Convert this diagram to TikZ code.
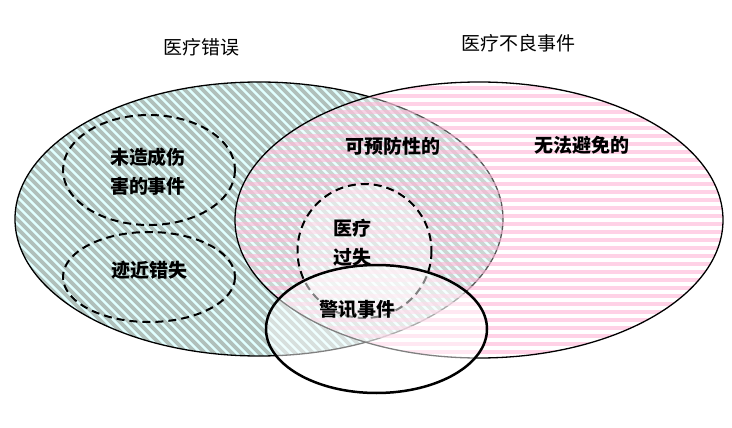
\documentclass[tikz,border=0pt]{standalone}
\usepackage{fontspec}
\setmainfont{Noto Sans CJK SC}
\definecolor{errgray}{HTML}{B0C0BB}
\definecolor{errcyan}{HTML}{E0FFFF}
\definecolor{advpink}{HTML}{FFB4D5}
\begin{document}
\begin{tikzpicture}[x=1pt,y=-1pt,
  lbl/.style={font=\fontsize{19}{29}\selectfont\bfseries,align=center},
  ttl/.style={font=\fontsize{19}{22}\selectfont},
  subset/.style={dash pattern=on 8pt off 5pt,line width=2pt}]
\useasboundingbox (0,0) rectangle (732,428);

% medical errors
\fill[errcyan] (259,219) ellipse [x radius=244,y radius=137];
\begin{scope}
\clip (259,219) ellipse [x radius=244,y radius=137];
\foreach \i in {-420,-411,...,520}
  \draw[errgray,line width=3.8pt] (\i,70) -- ++(300,300);
\end{scope}
\draw[line width=1.3pt] (259,219) ellipse [x radius=244,y radius=137];

% adverse events
\fill[white,fill opacity=0.35] (479,220) ellipse [x radius=244,y radius=138];
\begin{scope}
\clip (479,220) ellipse [x radius=244,y radius=138];
\foreach \j in {80,88,...,362}
  \draw[advpink,opacity=0.6,line width=4.5pt] (230,\j) -- (730,\j);
\end{scope}
\draw[line width=1.3pt] (479,220) ellipse [x radius=244,y radius=138];

% subsets of errors
\draw[subset] (149,170) ellipse [x radius=86,y radius=55];
\draw[subset] (149,277) ellipse [x radius=86,y radius=45];
\fill[white,fill opacity=0.45] (364.5,251) circle [radius=67];
\draw[subset] (364.5,251) circle [radius=67];

% sentinel events
\filldraw[fill=white,fill opacity=0.5,line width=2.5pt]
  (376.5,329) ellipse [x radius=110.5,y radius=64];

\node[ttl] (errTitle) at (201,47) {医疗错误};
\node[ttl] (aeTitle) at (518,43) {医疗不良事件};
\node[lbl] (noHarm) at (148,172) {未造成伤\\害的事件};
\node[lbl] (nearMiss) at (149,270) {迹近错失};
\node[lbl] (prevent) at (393,146) {可预防性的};
\node[lbl] (unavoid) at (582,145) {无法避免的};
\node[lbl] (malpr) at (352,243) {医疗\\过失};
\node[lbl] (sentinel) at (357,309) {警讯事件};
\end{tikzpicture}
\end{document}
